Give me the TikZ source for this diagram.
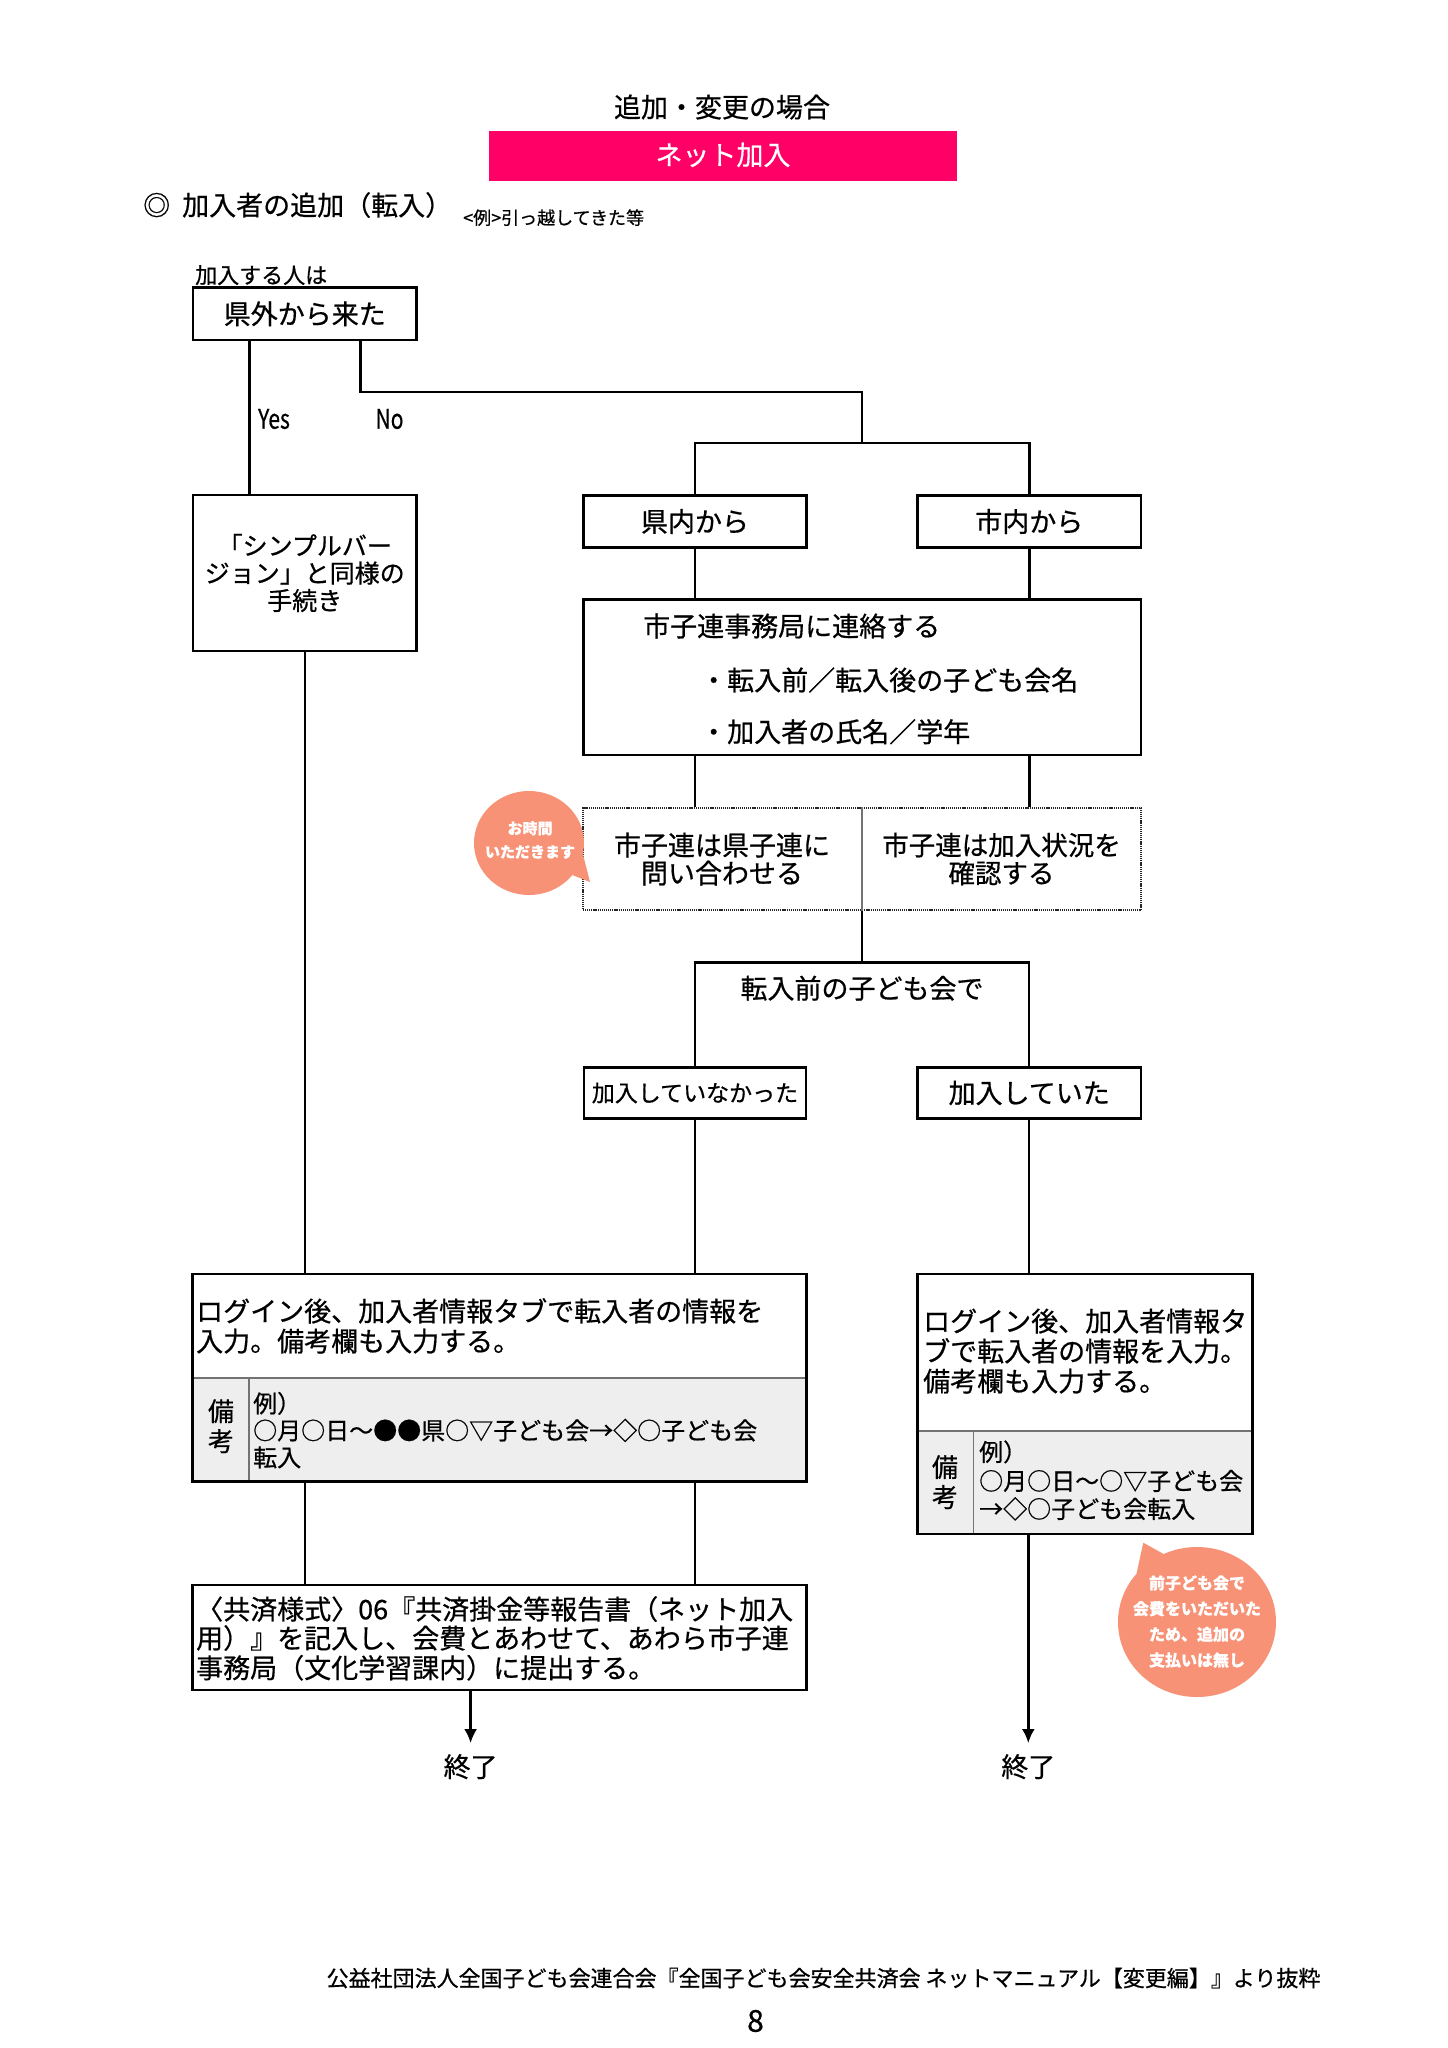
\documentclass[tikz,border=0pt]{standalone}
\usepackage{fontspec}
\newfontfamily\jp[FakeBold=0.6]{Noto Sans CJK JP}
\usetikzlibrary{arrows.meta,calc}
\definecolor{pinkbar}{RGB}{255,0,102}
\definecolor{salmon}{RGB}{247,146,118}
\definecolor{remgray}{RGB}{238,238,238}
\newcommand\jpf[2]{\fontsize{#1}{#2}\selectfont}
\tikzset{
  box/.style={draw, line width=2.6pt, inner sep=0pt, align=center, font=\jp\jpf{27}{27.5}},
  dotbox/.style={draw=black!85, line width=1.6pt, dash pattern=on 1.2pt off 0.9pt, inner sep=0pt},
  conn/.style={line width=2.4pt},
  arr/.style={line width=2.4pt, -{Latex[length=14pt,width=13pt]}},
  txt/.style={inner sep=0pt, font=\jp\jpf{27}{27}},
  rem/.style={inner sep=0pt, font=\jp\jpf{24}{24}},
  thin/.style={line width=1.2pt, draw=black!55},
  bal/.style={inner sep=0pt, text=white, align=center, font=\jp\bfseries},
  endn/.style={inner xsep=0pt, inner ysep=11pt, font=\jp\jpf{27}{27}}
}
\begin{document}
\begin{tikzpicture}[x=1pt,y=-1pt]
\useasboundingbox (0,0) rectangle (1448,2048);
\fill[white] (0,0) rectangle (1448,2048);

% header
\node[txt, anchor=base] (title) at (722,117.3) {追加・変更の場合};
\node[fill=pinkbar, minimum width=467.4pt, minimum height=50.3pt, inner sep=0pt] (bar) at (723,155.85) {};
\node[txt, anchor=base, text=white] (bartxt) at (723,165) {ネット加入};
\node[txt, anchor=base west] (sec) at (143,215.3) {◎\hspace{12pt}加入者の追加（転入）};
\node[inner sep=0pt, anchor=base west, font=\jp\jpf{18}{18}] (ex) at (463,224.5) {<例>引っ越してきた等};
\node[inner sep=0pt, anchor=base west, font=\jp\jpf{22}{22}] (who) at (195,283.4) {加入する人は};

% boxes
\node[box, minimum width=223.5pt, minimum height=52.3pt] (n1) at (304.75,313.8) {県外から来た};
\node[box, minimum width=223.5pt, minimum height=156pt, font=\jp\jpf{25}{27.5}] (n2) at (304.75,573) {「シンプルバー\\ジョン」と同様の\\手続き};
\node[box, minimum width=223pt, minimum height=51.6pt] (n3) at (695,521.5) {県内から};
\node[box, minimum width=223.5pt, minimum height=51.6pt] (n4) at (1029.3,521.5) {市内から};
\node[box, minimum width=557.6pt, minimum height=155.7pt] (n5) at (862.2,677.2) {};
\node[txt, anchor=base west] (n5a) at (643,636.3) {市子連事務局に連絡する};
\node[txt, anchor=base west] (n5b) at (700,690.3) {・転入前／転入後の子ども会名};
\node[txt, anchor=base west] (n5c) at (700,742) {・加入者の氏名／学年};

\node[dotbox, minimum width=558.3pt, minimum height=102pt] (n6) at (862,859) {};
\draw[thin] (n6.north) -- (n6.south);
\node[txt, align=center, font=\jp\jpf{27}{28}] (n6a) at (722,859) {市子連は県子連に\\問い合わせる};
\node[txt, align=center, font=\jp\jpf{26.5}{28}] (n6b) at (1001.5,859) {市子連は加入状況を\\確認する};

\node[txt, anchor=base] (q1) at (862,998.5) {転入前の子ども会で};
\node[box, minimum width=222.3pt, minimum height=51.5pt, font=\jp\jpf{23}{23}] (n7) at (695,1093) {加入していなかった};
\node[box, minimum width=223.2pt, minimum height=51.5pt] (n8) at (1029.2,1093) {加入していた};

% left login box
\fill[remgray] (192.3,1378) rectangle (806.5,1481.5);
\draw[thin] (192.3,1378) -- (806.5,1378);
\draw[thin] (249,1378) -- (249,1481.5);
\node[box, minimum width=614.2pt, minimum height=207.5pt] (n9) at (499.4,1377.75) {};
\node[txt, anchor=base west] (n9a) at (196,1321.3) {ログイン後、加入者情報タブで転入者の情報を};
\node[txt, anchor=base west] (n9b) at (196,1351.3) {入力。備考欄も入力する。};
\node[inner sep=0pt, anchor=base, font=\jp\jpf{26}{26}] (n9r1) at (221,1421) {備};
\node[inner sep=0pt, anchor=base, font=\jp\jpf{26}{26}] (n9r2) at (221,1451) {考};
\node[rem, anchor=base west] (n9c) at (253,1412.5) {例）};
\node[rem, anchor=base west] (n9d) at (253,1439.5) {○月○日～●●県○▽子ども会→◇○子ども会};
\node[rem, anchor=base west] (n9e) at (253,1466.5) {転入};

% right login box
\fill[remgray] (917.3,1431) rectangle (1252.7,1534);
\draw[thin] (917.3,1431) -- (1252.7,1431);
\draw[thin] (973.3,1431) -- (973.3,1534);
\node[box, minimum width=335.4pt, minimum height=260pt] (n10) at (1085,1404) {};
\node[txt, anchor=base west] (n10a) at (923,1331.3) {ログイン後、加入者情報タ};
\node[txt, anchor=base west] (n10b) at (923,1361.3) {ブで転入者の情報を入力。};
\node[txt, anchor=base west] (n10c) at (923,1391.3) {備考欄も入力する。};
\node[inner sep=0pt, anchor=base, font=\jp\jpf{26}{26}] (n10r1) at (945,1476.9) {備};
\node[inner sep=0pt, anchor=base, font=\jp\jpf{26}{26}] (n10r2) at (945,1506.9) {考};
\node[rem, anchor=base west] (n10d) at (979,1461) {例）};
\node[rem, anchor=base west] (n10e) at (979,1490) {○月○日～○▽子ども会};
\node[rem, anchor=base west] (n10f) at (979,1518) {→◇○子ども会転入};

% report box
\node[box, minimum width=614.2pt, minimum height=105pt] (n11) at (499.4,1637.5) {};
\node[txt, anchor=base west] (n11a) at (196,1619.3) {〈共済様式〉06『共済掛金等報告書（ネット加入};
\node[txt, anchor=base west] (n11b) at (196,1648.3) {用）』を記入し、会費とあわせて、あわら市子連};
\node[txt, anchor=base west] (n11c) at (196,1678) {事務局（文化学習課内）に提出する。};

\node[endn] (end1) at (470.6,1766.7) {終了};
\node[endn] (end2) at (1028.3,1766.7) {終了};

% labels
\node[inner sep=0pt, font=\jp\jpf{27}{27}] (yes) at (274,419) {\scalebox{0.78}[1]{Yes}};
\node[inner sep=0pt, font=\jp\jpf{27}{27}] (no) at (389.5,419) {\scalebox{0.78}[1]{No}};

% connectors
\coordinate (cyes) at (249.3,0);
\coordinate (cno) at (360.6,391.7);
\coordinate (j1) at (862,442.7);
\coordinate (j2) at (862,962.5);
\draw[conn] (n1.south -| cyes) -- (n2.north -| cyes);
\draw[conn] (n1.south -| cno) -- (cno) -- (cno -| j1) -- (j1);
\draw[conn] (n3.north) -- (n3.north |- j1) -- (n4.north |- j1) -- (n4.north);
\draw[conn] (n3.south) -- (n3.south |- n5.north);
\draw[conn] (n4.south) -- (n4.south |- n5.north);
\draw[conn] (n3.south |- n5.south) -- (n3.south |- n6.north);
\draw[conn] (n4.south |- n5.south) -- (n4.south |- n6.north);
\draw[conn] (n6.south) -- (j2);
\draw[conn] (n7.north) -- (n7.north |- j2) -- (n8.north |- j2) -- (n8.north);
\draw[conn] (n2.south) -- (n2.south |- n9.north);
\draw[conn] (n7.south) -- (n7.south |- n9.north);
\draw[conn] (n8.south) -- (n8.south |- n10.north);
\draw[conn] (n2.south |- n9.south) -- (n2.south |- n11.north);
\draw[conn] (n7.south |- n9.south) -- (n7.south |- n11.north);
\draw[arr] (n11.south -| end1) -- (end1.north);
\draw[arr] (n10.south -| end2) -- (end2.north);

% balloons
\fill[salmon] (529,843) ellipse [x radius=55, y radius=52];
\fill[salmon] (582.8,853.8) -- (590,882) -- (572.3,875) -- cycle;
\node[bal, font=\jp\bfseries\jpf{15}{23.5}] (b1) at (530,840) {お時間\\いただきます};

\fill[salmon] (1197,1622) ellipse [x radius=79, y radius=75];
\fill[salmon] (1163.6,1554) -- (1143.3,1542.7) -- (1136.5,1573.8) -- cycle;
\node[bal, font=\jp\bfseries\jpf{16}{25.7}] (b2) at (1197,1621.5) {前子ども会で\\会費をいただいた\\ため、追加の\\支払いは無し};

% footer
\node[inner sep=0pt, anchor=base, font=\jp\jpf{22}{22}] (foot) at (823.5,1986.4) {公益社団法人全国子ども会連合会『全国子ども会安全共済会 ネットマニュアル【変更編】』より抜粋};
\node[inner sep=0pt, font=\jp\jpf{30}{30}] (pg) at (755.5,2021) {8};
\end{tikzpicture}
\end{document}
